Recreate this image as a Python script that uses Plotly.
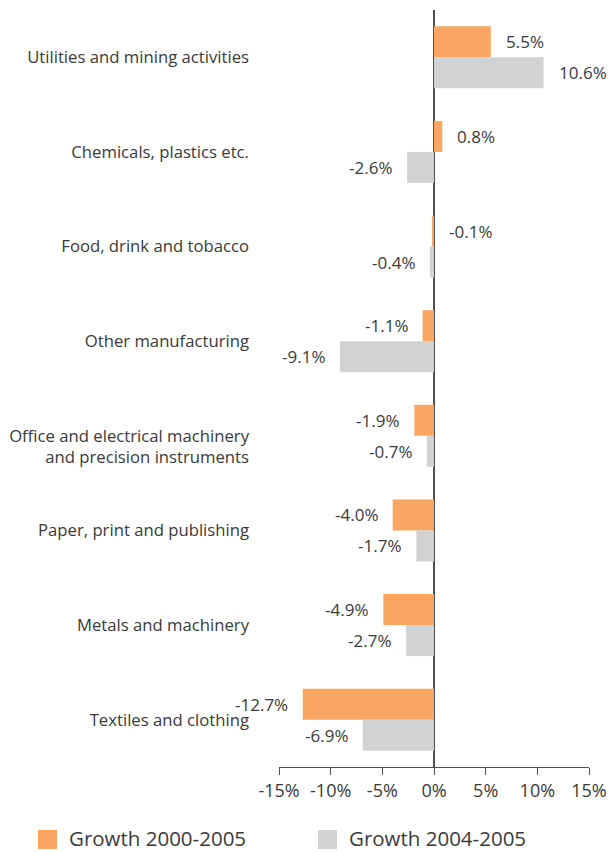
import plotly.graph_objects as go

# Sector growth figures (percent)
sectors = [
    "Utilities and mining activities",
    "Chemicals, plastics etc.",
    "Food, drink and tobacco",
    "Other manufacturing",
    "Office and electrical machinery<br>and precision instruments",
    "Paper, print and publishing",
    "Metals and machinery",
    "Textiles and clothing",
]
growth_2000_2005 = [5.5, 0.8, -0.1, -1.1, -1.9, -4.0, -4.9, -12.7]
growth_2004_2005 = [10.6, -2.6, -0.4, -9.1, -0.7, -1.7, -2.7, -6.9]
series_names = ["Growth 2000-2005", "Growth 2004-2005"]
x_ticks = [-15, -10, -5, 0, 5, 10, 15]

ORANGE = "#F9A662"
GREY = "#D1D2D4"
TEXT = "#3A3A3A"
AXIS = "#505050"
FONT = "Open Sans"

W, H = 611, 852
M = dict(l=279, r=22, t=10, b=85)
PW = W - M["l"] - M["r"]
PH = H - M["t"] - M["b"]


def px_to_paper(px, py):
    """Convert page pixel position to paper coordinates."""
    return (px - M["l"]) / PW, (H - M["b"] - py) / PH


fig = go.Figure()
series = [(series_names[0], growth_2000_2005, ORANGE), (series_names[1], growth_2004_2005, GREY)]

for name, vals, col in series:
    fig.add_trace(go.Bar(
        y=sectors, x=vals, orientation="h", name=name,
        marker=dict(color=col, line=dict(width=0)),
        showlegend=False, hoverinfo="skip",
    ))

# value labels next to each bar
annotations = []
for k, (name, vals, col) in enumerate(series):
    shift_y = 15.5 if k == 0 else -15.5
    for s, v in zip(sectors, vals):
        right = v > -0.2
        annotations.append(dict(
            x=max(v, 0) if right else v, y=s, xref="x", yref="y",
            text=f"{v:.1f}%", showarrow=False,
            xanchor="left" if right else "right",
            xshift=14 if right else -14, yshift=shift_y, borderpad=0,
            font=dict(family=FONT, size=17, color=TEXT),
        ))

# legend along the bottom: swatch + caption per series
shapes = []
legend_left = [38, 318]
for (name, vals, col), lx in zip(series, legend_left):
    x0, y0 = px_to_paper(lx, 849)
    x1, y1 = px_to_paper(lx + 19, 830)
    shapes.append(dict(type="rect", xref="paper", yref="paper",
                       x0=x0, y0=y0, x1=x1, y1=y1,
                       fillcolor=col, line=dict(width=0)))
    tx, ty = px_to_paper(lx + 30, 838.5)
    annotations.append(dict(x=tx, y=ty, xref="paper", yref="paper",
                            text=name, showarrow=False, borderpad=0,
                            xanchor="left", yanchor="middle",
                            font=dict(family=FONT, size=20.5, color=TEXT)))

# two-line category names hang below the row centre
tick_text = [("<br>" + s) if "<br>" in s else s for s in sectors]

fig.update_layout(
    width=W, height=H, autosize=False,
    margin=M,
    paper_bgcolor="white", plot_bgcolor="white",
    barmode="group", bargap=0.345, bargroupgap=0,
    font=dict(family=FONT, size=17, color=TEXT),
    showlegend=False,
    annotations=annotations,
    shapes=shapes,
    xaxis=dict(
        range=[-15, 15], tickmode="array", tickvals=x_ticks,
        ticktext=[f"{t}%" for t in x_ticks],
        showgrid=False, zeroline=True, zerolinecolor=AXIS, zerolinewidth=2,
        showline=True, linecolor=AXIS, linewidth=1.3,
        ticks="outside", ticklen=7, tickcolor=AXIS, tickwidth=1.3,
        tickfont=dict(family=FONT, size=18, color=TEXT),
        automargin=False, fixedrange=True,
    ),
    yaxis=dict(
        autorange="reversed", showgrid=False, zeroline=False, showline=False,
        tickmode="array", tickvals=sectors, ticktext=tick_text,
        ticks="", ticklabelstandoff=29,
        tickfont=dict(family=FONT, size=16.7, color=TEXT),
        automargin=False, fixedrange=True,
    ),
)

fig.write_html("out.html")
